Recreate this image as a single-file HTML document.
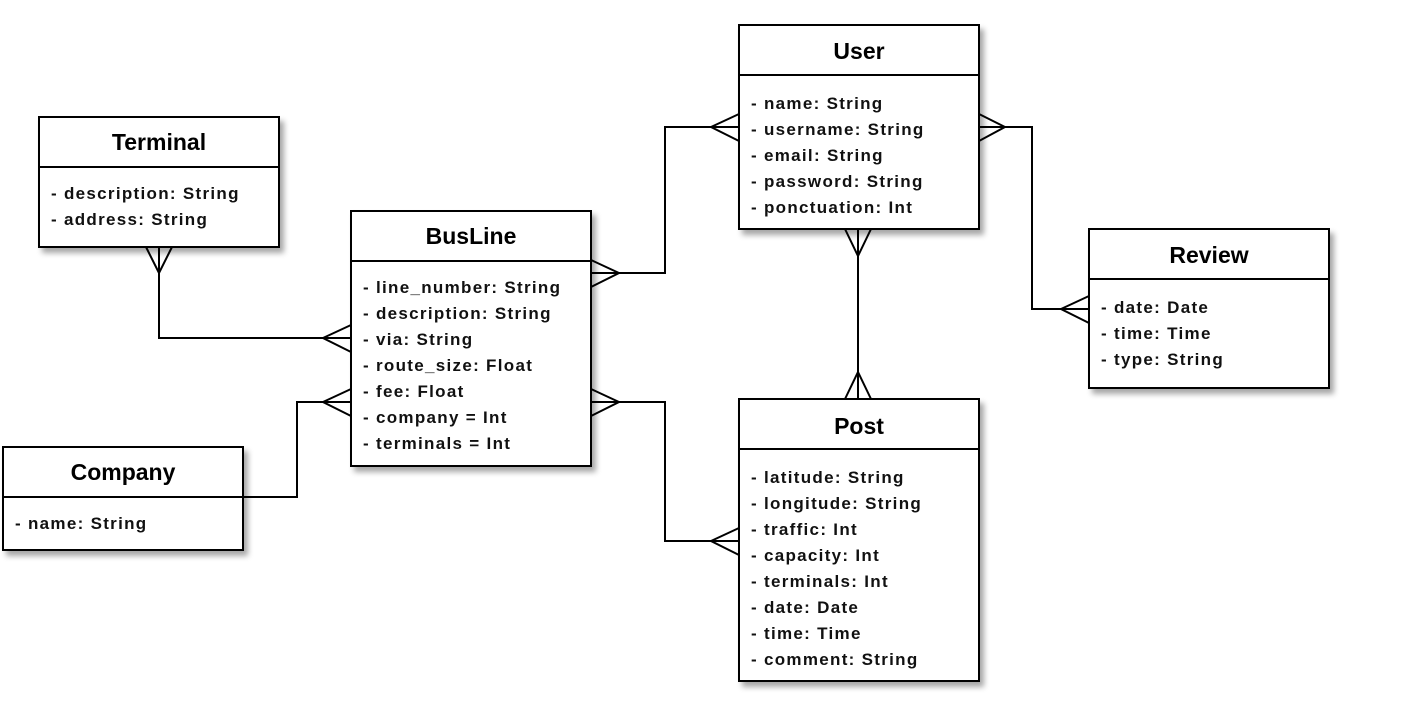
<!DOCTYPE html>
<html><head><meta charset="utf-8"><style>
html,body{margin:0;padding:0;background:#fff;}
svg{display:block;}
.t{font-family:"Liberation Sans",sans-serif;font-weight:bold;font-size:23px;fill:#000;text-anchor:middle;}
.a{font-family:"Liberation Sans",sans-serif;font-weight:bold;font-size:17px;fill:#111;letter-spacing:1.3px;}
.b{fill:#fff;stroke:#000;stroke-width:2;}
.l{fill:none;stroke:#000;stroke-width:2;}
</style></head><body>
<svg width="1420" height="710" viewBox="0 0 1420 710" xmlns="http://www.w3.org/2000/svg">
<defs><filter id="s" x="-10%" y="-10%" width="130%" height="130%"><feGaussianBlur in="SourceAlpha" stdDeviation="3"/><feOffset dx="4" dy="5"/><feComponentTransfer><feFuncA type="linear" slope="0.35"/></feComponentTransfer><feMerge><feMergeNode/><feMergeNode in="SourceGraphic"/></feMerge></filter></defs>

<g class="l">
<path d="M159,247 V338 H351"/>
<path d="M243,497 H297 V402 H351"/>
<path d="M591,273 H665 V127 H739"/>
<path d="M591,402 H665 V541 H739"/>
<path d="M858,229 V399"/>
<path d="M979,127 H1032 V309 H1089"/>
<path d="M146,247 L159,273 L172,247"/>
<path d="M351,325 L323,338 L351,352"/>
<path d="M351,389 L323,402 L351,416"/>
<path d="M591,260 L619,273 L591,287"/>
<path d="M739,114 L711,127 L739,141"/>
<path d="M591,389 L619,402 L591,416"/>
<path d="M739,528 L711,541 L739,555"/>
<path d="M845,229 L858,256 L871,229"/>
<path d="M845,399 L858,372 L871,399"/>
<path d="M979,114 L1005,127 L979,141"/>
<path d="M1089,296 L1061,309 L1089,323"/>
</g>

<g filter="url(#s)"><rect class="b" x="39" y="117" width="240" height="130"/></g>
<line class="l" x1="39" y1="167" x2="279" y2="167"/>
<text class="t" x="159" y="150">Terminal</text>
<text class="a" x="51" y="199">- description: String</text>
<text class="a" x="51" y="225">- address: String</text>

<g filter="url(#s)"><rect class="b" x="3" y="447" width="240" height="103"/></g>
<line class="l" x1="3" y1="497" x2="243" y2="497"/>
<text class="t" x="123" y="480">Company</text>
<text class="a" x="15" y="529">- name: String</text>

<g filter="url(#s)"><rect class="b" x="351" y="211" width="240" height="255"/></g>
<line class="l" x1="351" y1="261" x2="591" y2="261"/>
<text class="t" x="471" y="244">BusLine</text>
<text class="a" x="363" y="293">- line_number: String</text>
<text class="a" x="363" y="319">- description: String</text>
<text class="a" x="363" y="345">- via: String</text>
<text class="a" x="363" y="371">- route_size: Float</text>
<text class="a" x="363" y="397">- fee: Float</text>
<text class="a" x="363" y="423">- company = Int</text>
<text class="a" x="363" y="449">- terminals = Int</text>

<g filter="url(#s)"><rect class="b" x="739" y="25" width="240" height="204"/></g>
<line class="l" x1="739" y1="75" x2="979" y2="75"/>
<text class="t" x="859" y="59">User</text>
<text class="a" x="751" y="109">- name: String</text>
<text class="a" x="751" y="135">- username: String</text>
<text class="a" x="751" y="161">- email: String</text>
<text class="a" x="751" y="187">- password: String</text>
<text class="a" x="751" y="213">- ponctuation: Int</text>

<g filter="url(#s)"><rect class="b" x="1089" y="229" width="240" height="159"/></g>
<line class="l" x1="1089" y1="279" x2="1329" y2="279"/>
<text class="t" x="1209" y="263">Review</text>
<text class="a" x="1101" y="313">- date: Date</text>
<text class="a" x="1101" y="339">- time: Time</text>
<text class="a" x="1101" y="365">- type: String</text>

<g filter="url(#s)"><rect class="b" x="739" y="399" width="240" height="282"/></g>
<line class="l" x1="739" y1="449" x2="979" y2="449"/>
<text class="t" x="859" y="434">Post</text>
<text class="a" x="751" y="483">- latitude: String</text>
<text class="a" x="751" y="509">- longitude: String</text>
<text class="a" x="751" y="535">- traffic: Int</text>
<text class="a" x="751" y="561">- capacity: Int</text>
<text class="a" x="751" y="587">- terminals: Int</text>
<text class="a" x="751" y="613">- date: Date</text>
<text class="a" x="751" y="639">- time: Time</text>
<text class="a" x="751" y="665">- comment: String</text>
</svg>
</body></html>
